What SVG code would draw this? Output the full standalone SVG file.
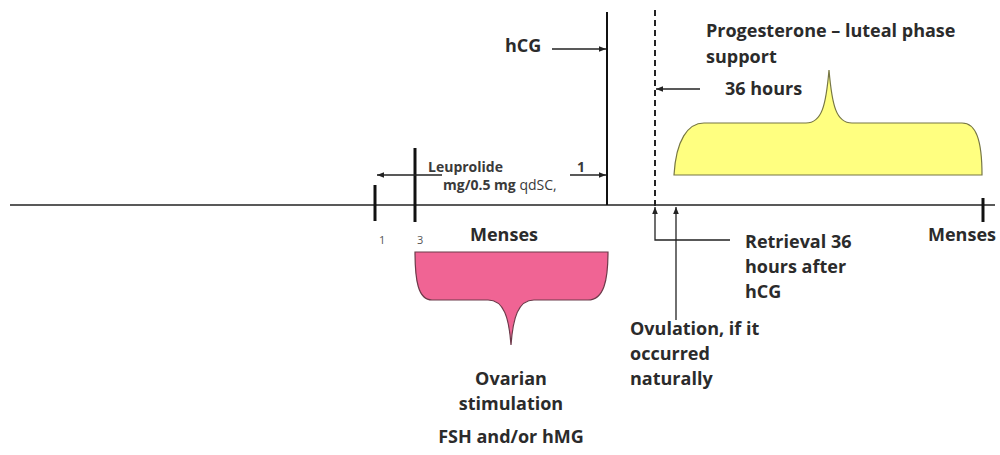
<svg xmlns="http://www.w3.org/2000/svg" width="1000" height="455" viewBox="0 0 1000 455">
<defs>
<marker id="ah" viewBox="0 0 10 10" refX="10" refY="5" markerWidth="7" markerHeight="7" orient="auto-start-reverse" markerUnits="userSpaceOnUse">
<path d="M0,1 L10,5 L0,9 z" fill="#222"/>
</marker>
<style>
.t{font-family:"Open Sans",Lato,"Liberation Sans",sans-serif;font-weight:bold;fill:#2b2b2b;font-size:18px}
.s{font-family:"Open Sans",Lato,"Liberation Sans",sans-serif;font-weight:bold;fill:#3a3a3a;font-size:14px}
.n{font-family:"Open Sans",Lato,"Liberation Sans",sans-serif;fill:#555;font-size:11px}
.ln{stroke:#222;stroke-width:1.5;fill:none}
.tk{stroke:#111;stroke-width:3;fill:none}
.ar{stroke:#222;stroke-width:1.3;fill:none;marker-end:url(#ah)}
</style>
</defs>
<rect width="1000" height="455" fill="#fff"/>
<g id="timeline">
<line class="ln" x1="10" y1="205" x2="995" y2="205"/>
<line class="tk" x1="375" y1="185" x2="375" y2="221"/>
<line class="tk" x1="415" y1="148" x2="415" y2="222"/>
<line class="tk" x1="983" y1="198" x2="983" y2="222"/>
<text class="n" x="379" y="244">1</text>
<text class="n" x="417" y="244">3</text>
</g>
<g id="hcg">
<line class="tk" x1="607" y1="12" x2="607" y2="205" style="stroke-width:2"/>
<text class="t" x="505" y="52">hCG</text>
</g>
<g id="leuprolide">
<text class="s" x="428" y="172">Leuprolide</text>
<text class="s" x="443" y="190">mg/0.5 mg <tspan style="font-weight:normal">qdSC,</tspan></text>
<text class="s" x="577" y="172">1</text>
</g>
<g id="dashed">
<line x1="655" y1="10" x2="655" y2="210" stroke="#222" stroke-width="2" stroke-dasharray="6,4"/>
<text class="t" x="725" y="95">36 hours</text>
</g>
<g id="progesterone">
<path d="M674,175 C676,140 688,123 704,123 L806,123 C822,123 826,105 829,70 C832,105 836,123 852,123 L962,123 C976,123 982,140 982,175 Z" fill="#ffff80" stroke="#777744" stroke-width="1.2"/>
<text class="t" x="706" y="37">Progesterone – luteal phase</text>
<text class="t" x="706" y="63">support</text>
</g>
<g id="stimulation">
<path d="M415,252 L608,252 C608,280 604,300 588,300 L534,300 C518,300 513,318 511,345 C509,318 504,300 488,300 L432,300 C418,300 415,280 415,252 Z" fill="#f06494" stroke="#6d3a4a" stroke-width="1.2"/>
<text class="t" x="504" y="241" text-anchor="middle">Menses</text>
<text class="t" x="511" y="385" text-anchor="middle">Ovarian</text>
<text class="t" x="511" y="410" text-anchor="middle">stimulation</text>
<text class="t" x="511" y="443" text-anchor="middle">FSH and/or hMG</text>
</g>
<g id="menses-end">
<text class="t" x="962" y="241" text-anchor="middle">Menses</text>
</g>
<g id="retrieval">
<text class="t" x="745" y="248">Retrieval 36</text>
<text class="t" x="745" y="273">hours after</text>
<text class="t" x="745" y="298">hCG</text>
</g>
<g id="ovulation">
<text class="t" x="630" y="335">Ovulation, if it</text>
<text class="t" x="630" y="360">occurred</text>
<text class="t" x="630" y="385">naturally</text>
</g>
<g id="connectors">
<line class="ar" x1="552" y1="49" x2="606" y2="49"/>
<line class="ar" x1="442" y1="175" x2="377" y2="175"/>
<line class="ar" x1="570" y1="175" x2="606" y2="175"/>
<line class="ar" x1="700" y1="89" x2="656" y2="89"/>
<polyline class="ar" points="730,240 655,240 655,207"/>
<line class="ar" x1="676" y1="320" x2="676" y2="207"/>
</g>
</svg>
